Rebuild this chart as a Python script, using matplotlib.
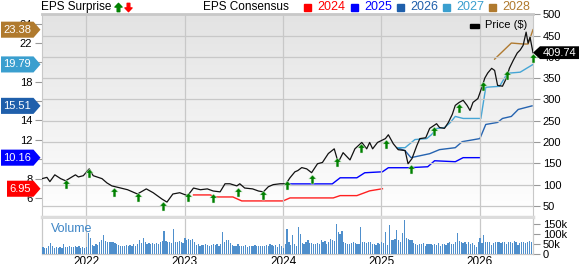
import numpy as np
import matplotlib
matplotlib.use('Agg')
import matplotlib.pyplot as plt
from matplotlib.path import Path
from matplotlib.patches import Polygon, Rectangle
from matplotlib.lines import Line2D
from matplotlib.transforms import blended_transform_factory
from matplotlib.colors import LinearSegmentedColormap

plt.rcParams['font.family'] = ['Liberation Sans', 'DejaVu Sans']

# price line ($), x in decimal years
priceYears = [2021.55, 2021.60, 2021.63, 2021.68, 2021.74, 2021.79, 2021.84, 2021.89, 2021.92, 2021.97,
              2022.03, 2022.07, 2022.16, 2022.21, 2022.26, 2022.35, 2022.42, 2022.52, 2022.61, 2022.68,
              2022.77, 2022.82, 2022.88, 2022.95, 2023.03, 2023.09, 2023.16, 2023.23, 2023.29, 2023.36,
              2023.41, 2023.46, 2023.53, 2023.56, 2023.61, 2023.69, 2023.75, 2023.80, 2023.85, 2023.90,
              2023.97, 2024.03, 2024.07, 2024.12, 2024.15, 2024.19, 2024.24, 2024.29, 2024.35, 2024.40,
              2024.46, 2024.52, 2024.56, 2024.61, 2024.68, 2024.73, 2024.80, 2024.85, 2024.88, 2024.91,
              2024.96, 2025.04, 2025.07, 2025.12, 2025.17, 2025.24, 2025.27, 2025.31, 2025.36, 2025.39,
              2025.45, 2025.49, 2025.56, 2025.59, 2025.64, 2025.68, 2025.72, 2025.75, 2025.79, 2025.83,
              2025.87, 2025.90, 2025.93, 2025.98, 2026.02, 2026.05, 2026.08, 2026.12, 2026.15, 2026.18,
              2026.23, 2026.27, 2026.30, 2026.34, 2026.38, 2026.41, 2026.44, 2026.47, 2026.49, 2026.51,
              2026.54]
priceValues = [114, 117, 107, 123, 114, 109, 116, 123, 118, 121,
               137, 121, 114, 104, 97, 92, 88, 78, 90, 81,
               66, 59, 78, 81, 74, 92, 88, 90, 85, 83,
               102, 102, 97, 102, 92, 90, 85, 83, 95, 100,
               102, 102, 116, 130, 133, 140, 137, 128, 149, 152,
               173, 184, 152, 175, 158, 184, 199, 184, 199, 184,
               199, 208, 217, 196, 182, 180, 149, 161, 192, 208,
               210, 232, 243, 234, 232, 246, 265, 286, 293, 298,
               286, 274, 293, 302, 328, 350, 362, 373, 368, 333,
               331, 350, 373, 392, 409, 416, 427, 458, 432, 446,
               409.74]

# positive EPS surprises (arrow placed on price scale)
surpriseYears = [2021.79, 2022.03, 2022.28, 2022.53, 2022.78, 2023.03, 2023.29, 2023.54, 2023.80, 2024.04,
                 2024.29, 2024.55, 2024.79, 2025.05, 2025.30, 2025.53, 2025.79, 2026.03, 2026.28, 2026.54]
surprisePrice = [102, 128, 83, 71, 50, 71, 69, 83, 76, 100,
                 114, 152, 187, 196, 137, 227, 281, 331, 357, 397]

# EPS consensus per fiscal year
eps2024Years = [2023.09, 2023.26, 2023.31, 2023.49, 2023.58, 2024.00, 2024.07, 2024.51, 2024.58, 2024.75, 2024.88, 2025.01]
eps2024 = [6.31, 6.31, 6.10, 6.10, 5.69, 5.69, 6.00, 6.00, 6.24, 6.24, 6.73, 6.95]
eps2025Years = [2024.02, 2024.50, 2024.58, 2024.75, 2024.83, 2025.01, 2025.07, 2025.27, 2025.47, 2025.54, 2025.75, 2025.83, 2026.00]
eps2025 = [7.45, 7.45, 8.08, 8.08, 8.60, 8.70, 9.12, 9.12, 9.22, 9.84, 9.74, 10.16, 10.16]
eps2026Years = [2025.16, 2025.24, 2025.30, 2025.49, 2025.59, 2025.75, 2025.82, 2026.00, 2026.06, 2026.18, 2026.23, 2026.32, 2026.39, 2026.53]
eps2026 = [11.19, 10.88, 10.16, 10.57, 10.99, 11.19, 11.81, 12.13, 13.59, 13.80, 14.21, 14.42, 15.14, 15.51]
eps2027Years = [2025.16, 2025.24, 2025.34, 2025.46, 2025.51, 2025.56, 2025.64, 2025.70, 2025.75, 2025.83, 2026.01, 2026.06, 2026.20, 2026.28, 2026.41, 2026.54]
eps2027 = [11.19, 11.19, 12.03, 12.13, 12.55, 13.17, 13.27, 13.79, 14.42, 14.21, 14.21, 17.43, 17.53, 18.88, 18.99, 19.79]
eps2028Years = [2026.15, 2026.32, 2026.44, 2026.49, 2026.54]
eps2028 = [20.34, 22.00, 21.90, 21.90, 23.38]

# weekly volume (thousands)
volumeK = [35, 30, 32, 40, 53, 38, 30, 33, 31, 35, 30, 48, 36,
           34, 38, 33, 36, 40, 35, 38, 32, 36, 30, 34, 103, 78,
           45, 42, 48, 44, 58, 70, 95, 65, 60, 62, 58, 60, 55,
           52, 45, 40, 42, 38, 44, 40, 45, 42, 48, 38, 50, 70,
           55, 80, 58, 52, 55, 50, 54, 48, 56, 52, 60, 65, 117,
           65, 58, 62, 55, 125, 62, 58, 64, 60, 55, 78, 72, 75,
           70, 74, 60, 45, 48, 42, 47, 44, 50, 45, 40, 46, 48,
           45, 50, 42, 48, 112, 60, 72, 70, 55, 45, 40, 42, 48,
           38, 42, 40, 45, 36, 40, 42, 38, 44, 40, 38, 42, 40,
           42, 46, 40, 48, 44, 38, 45, 35, 50, 42, 30, 48, 125,
           60, 45, 95, 50, 40, 137, 98, 55, 50, 62, 70, 55, 53,
           52, 50, 55, 48, 70, 58, 65, 52, 60, 75, 70, 65, 150,
           112, 98, 115, 60, 55, 50, 52, 55, 58, 55, 52, 50, 133,
           58, 62, 55, 60, 58, 52, 50, 45, 55, 52, 60, 55, 112,
           45, 145, 70, 72, 75, 120, 68, 62, 103, 170, 80, 75, 72,
           70, 55, 50, 45, 52, 48, 55, 42, 50, 48, 52, 45, 50,
           45, 55, 42, 50, 48, 45, 55, 58, 52, 50, 60, 103, 65,
           60, 55, 62, 50, 58, 48, 55, 45, 35, 60, 78, 55, 95,
           58, 62, 60, 45, 55, 60, 62, 58, 55, 60, 58, 50, 62,
           60, 55, 65, 58, 45, 55, 60, 62, 55, 60, 65, 58]
volumeStart = 2021.56

yearTicks = [2022, 2023, 2024, 2025, 2026]
priceTicks = [50, 100, 150, 200, 250, 300, 350, 400, 450, 500]
epsTicks = [6, 8, 10, 12, 14, 16, 18, 20, 22, 24]
epsTickLabels = ['6', '8', '', '12', '14', '', '18', '', '22', '24']  # 10, 16, 20 sit under the badges
volTicks = [0, 50, 100, 150]
volLabels = ['0', '50k', '100k', '150k']

seriesNames = ['2024', '2025', '2026', '2027', '2028']
lineColors = ['#ff2020', '#0000ff', '#2563b0', '#45a5d5', '#b07a30']
badgeColors = ['#ff0000', '#0000ff', '#1f5fab', '#3a9fcf', '#b07a2e']

W, H = 579, 264
fig = plt.figure(figsize=(W / 100, H / 100), dpi=100)
fig.set_facecolor('white')

left, right = 42 / W, 533 / W
pricePos = [left, 1 - 217 / H, right - left, (217 - 14) / H]
volPos = [left, 1 - 254 / H, right - left, (254 - 219) / H]

xlo, xhi = 2021.55, 2026.54
gridColor = '#c8c8c8'

# EPS axis (bottom layer, holds background gradient)
axEps = fig.add_axes(pricePos)
grad = LinearSegmentedColormap.from_list('bg', ['#ffffff', '#e3e3e3'])
axEps.imshow(np.linspace(0, 1, 100).reshape(-1, 1), extent=[0, 1, 0, 1], transform=axEps.transAxes,
             cmap=grad, aspect='auto', origin='lower', zorder=0)
axEps.set_xlim(xlo, xhi)
axEps.set_ylim(4.03, 25.0)
epsSeries = [(eps2024Years, eps2024), (eps2025Years, eps2025), (eps2026Years, eps2026),
             (eps2027Years, eps2027), (eps2028Years, eps2028)]
for (xs, ys), c in zip(epsSeries, lineColors):
    axEps.plot(xs, ys, color=c, lw=1.0, zorder=3)
axEps.set_yticks(epsTicks)
axEps.set_yticklabels(epsTickLabels)
axEps.tick_params(axis='y', left=True, right=False, labelleft=True, labelright=False,
                  length=5, width=0.8, color='#999999', labelsize=8, pad=2)
axEps.tick_params(axis='x', bottom=False, labelbottom=False)
for s in axEps.spines.values():
    s.set_visible(False)

# price axis (top layer)
ax = fig.add_axes(pricePos, sharex=axEps)
ax.patch.set_visible(False)
ax.set_ylim(24, 500.5)
ax.set_yticks(priceTicks)
ax.yaxis.tick_right()
ax.tick_params(axis='y', length=5, width=0.8, color='#999999', labelsize=8, pad=2)
ax.tick_params(axis='x', bottom=False, labelbottom=False)
ax.set_xticks(yearTicks)
ax.grid(True, color=gridColor, lw=0.9)
ax.set_axisbelow(True)
ax.plot(priceYears, priceValues, color='#111111', lw=0.9, zorder=4)

arrowUp = Path([(0, 1), (0.85, 0.1), (0.32, 0.1), (0.32, -1), (-0.32, -1), (-0.32, 0.1), (-0.85, 0.1), (0, 1)],
               [Path.MOVETO] + [Path.LINETO] * 6 + [Path.CLOSEPOLY])
arrowDown = Path(arrowUp.vertices * np.array([1, -1]), arrowUp.codes)
ax.plot(surpriseYears, surprisePrice, ls='none', marker=arrowUp, markersize=6.5,
        color='#008000', markeredgecolor='#e8f5e8', markeredgewidth=0.3, zorder=5, clip_on=False)

for s in ax.spines.values():
    s.set_visible(False)
ax.spines['top'].set_visible(True)
ax.spines['top'].set_color('#c8c8c8')
ax.spines['top'].set_linewidth(2)
ax.spines['bottom'].set_visible(True)
ax.spines['bottom'].set_color('#dcdcdc')
ax.spines['bottom'].set_linewidth(2.5)
ax.spines['left'].set_visible(True)
ax.spines['left'].set_color(gridColor)
ax.spines['right'].set_visible(True)
ax.spines['right'].set_color(gridColor)

# volume panel
axVol = fig.add_axes(volPos, sharex=axEps)
volX = volumeStart + np.arange(len(volumeK)) / 52.0
axVol.bar(volX, volumeK, width=0.65 / 52, color='#4f8fcc', edgecolor='none', zorder=3)
axVol.set_ylim(0, 175)
axVol.set_xlim(xlo, xhi)
axVol.set_yticks(volTicks)
axVol.set_yticklabels(volLabels)
axVol.yaxis.tick_right()
axVol.tick_params(axis='y', length=5, width=0.8, color='#999999', labelsize=8, pad=2)
axVol.set_xticks(yearTicks)
axVol.set_xticklabels([str(y) for y in yearTicks])
axVol.tick_params(axis='x', length=0, labelsize=8.5, pad=1.5)
axVol.grid(True, axis='x', color=gridColor, lw=0.9)
axVol.set_axisbelow(True)
for s in axVol.spines.values():
    s.set_color(gridColor)
    s.set_linewidth(0.9)
axVol.spines['top'].set_visible(False)
axVol.text(0.018, 0.7, 'Volume', transform=axVol.transAxes, color='#3d85c6', fontsize=9, va='center')

# left value badges
tEps = blended_transform_factory(fig.transFigure, axEps.transData)
lastEps = [eps2024[-1], eps2025[-1], eps2026[-1], eps2027[-1], eps2028[-1]]
hh = 0.83
for v, c in zip(lastEps, badgeColors):
    label = '%.2f' % v
    x0 = (1 if len(label) == 5 else 7) / W
    x1, xt = 33.5 / W, 40.5 / W
    fig.add_artist(Polygon([(x0, v - hh), (x1, v - hh), (xt, v), (x1, v + hh), (x0, v + hh)],
                           closed=True, transform=tEps, facecolor=c, edgecolor='none', zorder=5))
    fig.text(31 / W, v, label, transform=tEps, color='white', fontsize=8, ha='right', va='center', zorder=6)

# right price badge
tPrice = blended_transform_factory(fig.transFigure, ax.transData)
lastPrice = priceValues[-1]
ph = 15
fig.add_artist(Polygon([(533 / W, lastPrice), (540 / W, lastPrice - ph), (1.0, lastPrice - ph),
                        (1.0, lastPrice + ph), (540 / W, lastPrice + ph)],
                       closed=True, transform=tPrice, facecolor='black', edgecolor='none', zorder=5))
fig.text(543 / W, lastPrice, '%.2f' % lastPrice, transform=tPrice, color='white', fontsize=8,
         ha='left', va='center', zorder=6)

# header
hy = 1 - 7 / H
fig.text(41 / W, hy, 'EPS Surprise', fontsize=8.5, va='center')
fig.add_artist(Line2D([117.5 / W], [hy], marker=arrowUp, markersize=6, color='#008000', ls='none',
                      transform=fig.transFigure))
fig.add_artist(Line2D([127.5 / W], [hy], marker=arrowDown, markersize=6, color='#ff0000', ls='none',
                      transform=fig.transFigure))
fig.text(203 / W, hy, 'EPS Consensus', fontsize=8.5, va='center')
squareX = [307.5, 354.5, 400.5, 446.5, 492.5]
for name, c, bc, sx in zip(seriesNames, lineColors, badgeColors, squareX):
    fig.add_artist(Rectangle(((sx - 3.5) / W, hy - 3.5 / H), 7 / W, 7 / H, color=bc,
                             transform=fig.transFigure))
    fig.text((sx + 9.5) / W, hy, name, fontsize=9, color=bc, va='center')

# price legend
fig.add_artist(Rectangle((470 / W, 1 - 27.5 / H), 9 / W, 4 / H, color='black', transform=fig.transFigure))
fig.text(485 / W, 1 - 25.5 / H, 'Price ($)', fontsize=8, va='center')

fig.savefig('out.png', dpi=100)
